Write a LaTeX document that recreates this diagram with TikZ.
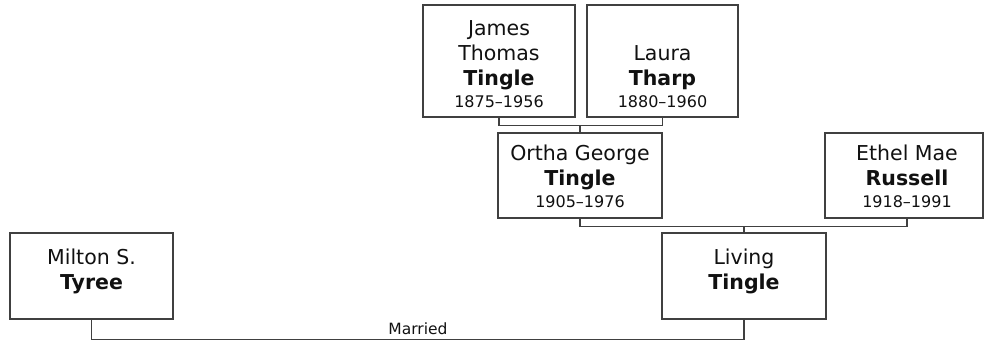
\documentclass[tikz,border=0pt]{standalone}
\usepackage{fontspec}
\setmainfont{DejaVu Sans}
\usetikzlibrary{calc}
\definecolor{lc}{HTML}{404040}
\definecolor{tc}{HTML}{111111}
\newcommand\nm{\fontsize{20.5}{25}\selectfont}
\newcommand\dt{\fontsize{16}{20}\selectfont}
\tikzset{
  pbox/.style={draw=lc, line width=1.4pt, fill=white, inner sep=0pt, minimum height=#1},
  ptext/.style={inner sep=0pt, text=tc, anchor=base},
  conn/.style={draw=lc, line width=1.4pt},
  lbl/.style={inner sep=0pt, text=tc, anchor=base, font=\fontsize{15.5}{18}\selectfont}
}
\begin{document}
\begin{tikzpicture}[x=1pt, y=-1pt]
\useasboundingbox (0,0) rectangle (984,341);
% boxes
\node[pbox=112pt, minimum width=152pt] (james) at (499,61) {};
\node[pbox=112pt, minimum width=151pt] (laura) at (662.5,61) {};
\node[pbox=85pt, minimum width=164pt] (ortha) at (580,175.5) {};
\node[pbox=85pt, minimum width=158pt] (ethel) at (904,175.5) {};
\node[pbox=86pt, minimum width=163pt] (milton) at (91.5,276) {};
\node[pbox=86pt, minimum width=164pt] (living) at (744,276) {};
% texts
\node[ptext] (jamesT) at ([yshift=10pt]james.south) {\nm\begin{tabular}[b]{@{}c@{}}James\\Thomas\\\textbf{Tingle}\\[-3pt]\dt 1875–1956\end{tabular}};
\node[ptext] (lauraT) at ([yshift=10pt]laura.south) {\nm\begin{tabular}[b]{@{}c@{}}Laura\\\textbf{Tharp}\\[-3pt]\dt 1880–1960\end{tabular}};
\node[ptext] (orthaT) at ([yshift=11pt]ortha.south) {\nm\begin{tabular}[b]{@{}c@{}}Ortha George\\\textbf{Tingle}\\[-3pt]\dt 1905–1976\end{tabular}};
\node[ptext] (ethelT) at ([xshift=3pt,yshift=11pt]ethel.south) {\nm\begin{tabular}[b]{@{}c@{}}Ethel Mae\\\textbf{Russell}\\[-3pt]\dt 1918–1991\end{tabular}};
\node[ptext] (miltonT) at ([yshift=30pt]milton.south) {\nm\begin{tabular}[b]{@{}c@{}}Milton S.\\\textbf{Tyree}\end{tabular}};
\node[ptext] (livingT) at ([yshift=30pt]living.south) {\nm\begin{tabular}[b]{@{}c@{}}Living\\\textbf{Tingle}\end{tabular}};
% connectors
\coordinate (jl) at ($(james.south)!.5!(laura.south)+(0,8)$);
\draw[conn] (james.south) -- ++(0,8) -| (laura.south);
\draw[conn] (ortha.north) -- (ortha.north |- jl);
\coordinate (ol) at ($(ortha.south)+(0,8)$);
\draw[conn] (ortha.south) -- (ol) -| ([xshift=3pt]ethel.south);
\draw[conn] (living.north) -- (living.north |- ol);
\draw[conn] (milton.south) -- ++(0,20) -| (living.south);
\node[lbl] (married) at (418,334) {Married};
\end{tikzpicture}
\end{document}
